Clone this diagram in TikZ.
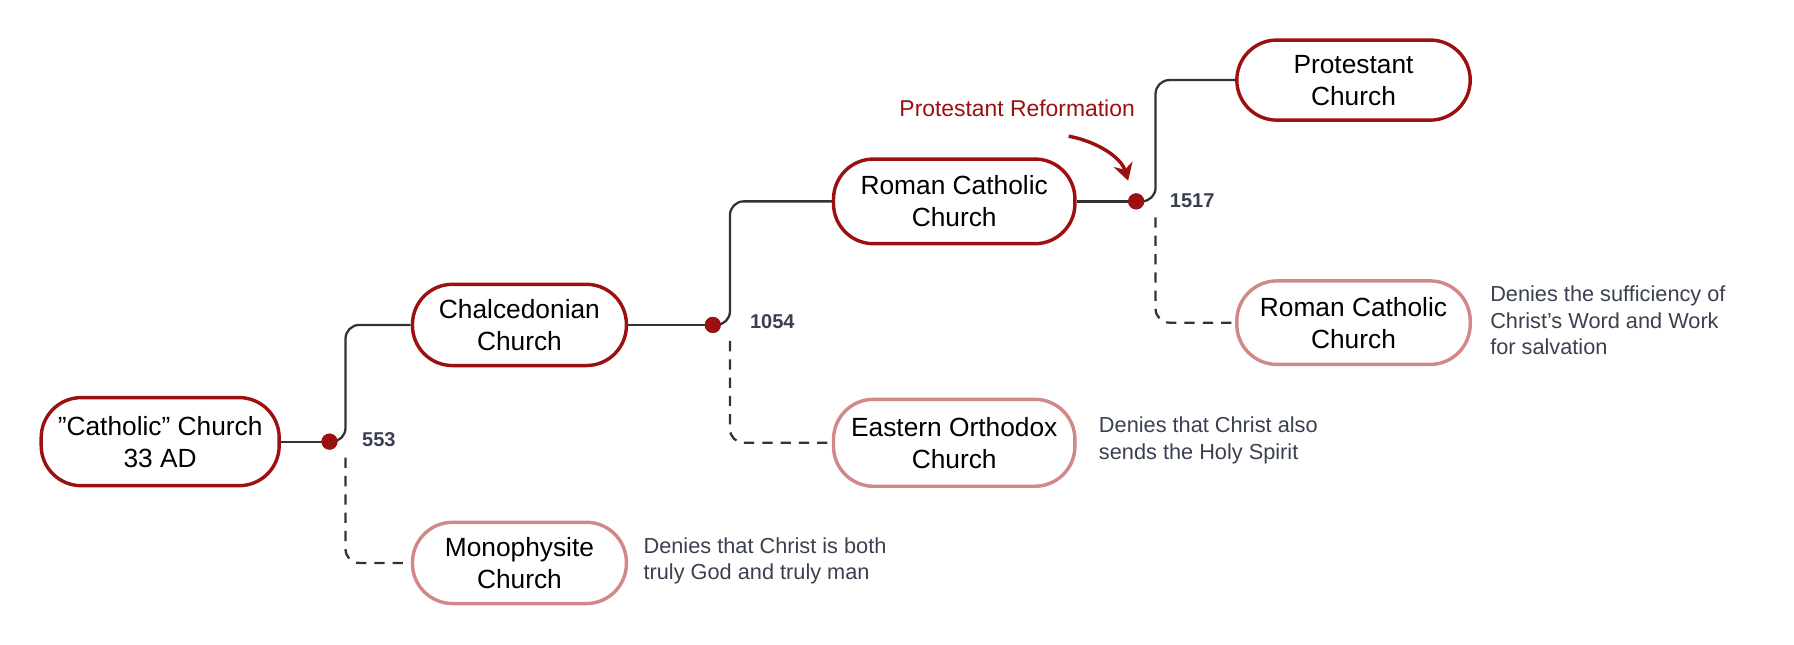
\documentclass[tikz,border=0pt]{standalone}
\usepackage{fontspec}
\setmainfont{Liberation Sans}[Ligatures=NoCommon]
\usetikzlibrary{arrows.meta}
\definecolor{dred}{HTML}{9B1010}
\definecolor{lred}{HTML}{D08888}
\definecolor{lgrey}{HTML}{333333}
\definecolor{tgrey}{HTML}{3A4050}
\tikzset{
 pill/.style={draw=dred,line width=3pt,rounded corners=35pt,minimum height=#1,align=center,font=\fontsize{23}{28}\selectfont,inner sep=0pt},
 pillA/.style={pill=74pt},
 pillB/.style={pill=71pt,draw=lred},
 conn/.style={draw=lgrey,line width=2pt,rounded corners=12pt},
 dconn/.style={conn,dashed,dash pattern=on 9pt off 7pt},
 dot/.style={circle,fill=dred,inner sep=0pt,minimum size=14pt},
 yr/.style={font=\fontsize{17.5}{20}\selectfont\bfseries,text=tgrey,anchor=west},
 desc/.style={font=\fontsize{19}{23}\selectfont,text=tgrey,anchor=west,align=left}
}
\begin{document}
\begin{tikzpicture}[x=1pt,y=-1pt]
\useasboundingbox (0,0) rectangle (1568,563);
\node[pillA,minimum width=208pt,minimum height=77pt] (cat) at (140,386) {\symbol{34}Catholic\symbol{34} Church\\33 AD};
\node[pillA,minimum width=187pt,minimum height=71pt] (cha) at (454,284) {Chalcedonian\\Church};
\node[pillB,minimum width=187pt,minimum height=71pt] (mon) at (454,492) {Monophysite\\Church};
\node[pillA,minimum width=211pt] (rc) at (834,176) {Roman Catholic\\Church};
\node[pillB,minimum width=211pt,minimum height=76pt] (eo) at (834,387) {Eastern Orthodox\\Church};
\node[pillA,minimum width=204pt,minimum height=70pt] (pro) at (1183,70) {Protestant\\Church};
\node[pillB,minimum width=204pt,minimum height=73pt] (rc2) at (1183,282) {Roman Catholic\\Church};

\node[dot] (d1) at (288,386) {};
\node[dot] (d2) at (623,284) {};
\node[dot] (d3) at (993,176) {};

\draw[conn] (cat.east) -- (d1.center);
\draw[conn] (d1.center) -| (302,360) |- (cha.west);
\draw[dconn] (302,400) |- (mon.west);
\draw[conn] (cha.east) -- (d2.center);
\draw[conn] (d2.center) -| (638,260) |- (rc.west);
\draw[dconn] (638,298) |- (eo.west);
\draw[conn] (rc.east) -- (d3.center);
\draw[conn] (d3.center) -| (1010,150) |- (pro.west);
\draw[dconn] (1010,190) |- (rc2.west);
\node[dot] at (288,386) {};
\node[dot] at (623,284) {};
\node[dot] at (993,176) {};

\node[yr] (y1) at (313,384) {553};
\node[yr] (y2) at (652,281) {1054};
\node[yr] (y3) at (1019,175) {1517};

\node[desc] (t1) at (559,490) {Denies that Christ is both\\truly God and truly man};
\node[desc] (t2) at (957,385) {Denies that Christ also\\sends the Holy Spirit};
\node[desc] (t3) at (1299,280) {Denies the sufficiency of\\Christ\symbol{39}s Word and Work\\for salvation};

\node[font=\fontsize{20}{23}\selectfont,text=dred] (pr) at (889,95) {Protestant Reformation};
\coordinate (as) at (934,119);
\coordinate (ae) at (986,158);
\draw[dred,line width=3pt,-{Stealth[length=15pt,width=17pt]}] (as) .. controls (960,124) and (980,138) .. (ae);
\end{tikzpicture}
\end{document}
